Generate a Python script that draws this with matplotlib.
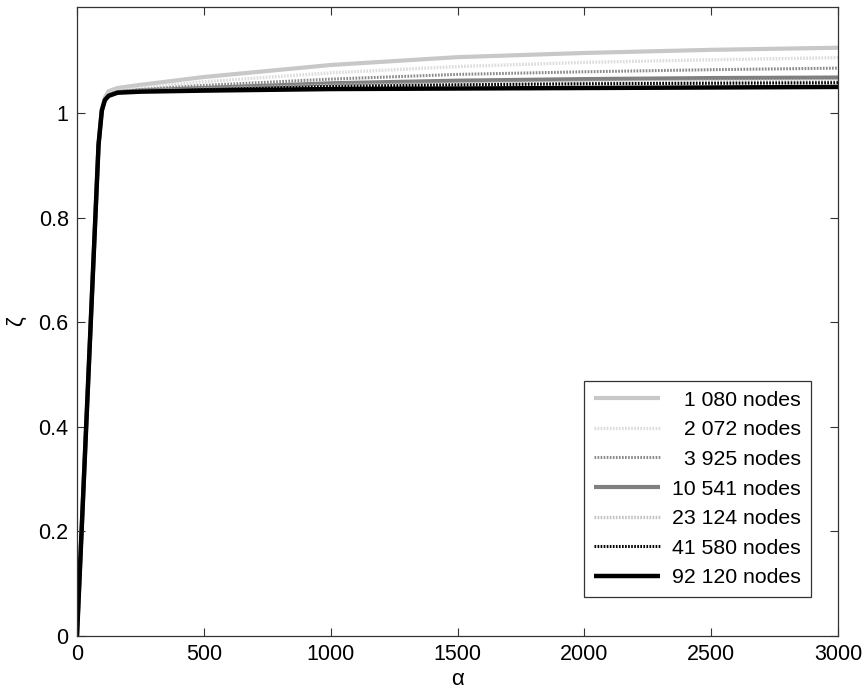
import matplotlib as mpl
mpl.use('Agg')
import matplotlib.pyplot as plt

mpl.rcParams['font.family'] = ['Liberation Sans', 'DejaVu Sans']
mpl.rcParams['lines.scale_dashes'] = False

# valores
alfa = [0, 85, 98, 110, 125, 160, 250, 500, 1000, 1500, 2000, 2500, 3000]

zeta_1080 = [0, 0.94, 1.008, 1.030, 1.042, 1.048, 1.054, 1.069, 1.092, 1.107, 1.115, 1.121, 1.125]
zeta_2072 = [0, 0.94, 1.007, 1.027, 1.037, 1.043, 1.048, 1.060, 1.077, 1.089, 1.097, 1.102, 1.106]
zeta_3925 = [0, 0.94, 1.006, 1.026, 1.035, 1.041, 1.045, 1.053, 1.065, 1.074, 1.079, 1.083, 1.086]
zeta_10541 = [0, 0.94, 1.006, 1.025, 1.034, 1.040, 1.043, 1.048, 1.057, 1.062, 1.065, 1.067, 1.068]
zeta_23124 = [0, 0.94, 1.005, 1.025, 1.033, 1.039, 1.042, 1.046, 1.053, 1.056, 1.059, 1.061, 1.062]
zeta_41580 = [0, 0.94, 1.005, 1.025, 1.033, 1.039, 1.041, 1.045, 1.051, 1.054, 1.056, 1.057, 1.058]
zeta_92120 = [0, 0.94, 1.005, 1.025, 1.033, 1.039, 1.041, 1.043, 1.046, 1.047, 1.048, 1.049, 1.050]

etiquetas = ['\u20071 080 nodes', '\u20072 072 nodes', '\u20073 925 nodes',
             '10 541 nodes', '23 124 nodes', '41 580 nodes', '92 120 nodes']
series = [zeta_1080, zeta_2072, zeta_3925, zeta_10541, zeta_23124, zeta_41580, zeta_92120]

punteado = (0, (1.2, 1.0))
estilos = [
    dict(color='#c8c8c8', lw=3.0, ls='-'),
    dict(color='#dcdcdc', lw=2.4, ls=punteado),
    dict(color='#8a8a8a', lw=2.2, ls=punteado),
    dict(color='#808080', lw=3.0, ls='-'),
    dict(color='#c4c4c4', lw=2.4, ls=punteado),
    dict(color='#000000', lw=2.2, ls=punteado),
    dict(color='#000000', lw=3.2, ls='-'),
]

fig = plt.figure(figsize=(8.67, 6.95), dpi=100)
ax = fig.add_axes([0.0888, 0.0849, 0.8778, 0.9051])

for y, lab, st in zip(series, etiquetas, estilos):
    ax.plot(alfa, y, label=lab, solid_capstyle='butt', solid_joinstyle='round', **st)

ax.set_xlim(0, 3000)
ax.set_ylim(0, 1.203)
ax.set_xticks(range(0, 3001, 500))
ax.set_yticks([0, 0.2, 0.4, 0.6, 0.8, 1])
ax.set_yticklabels(['0', '0.2', '0.4', '0.6', '0.8', '1'])
ax.tick_params(direction='in', length=6, width=0.8, top=True, right=True,
               labelsize=15.5, colors='#333333', labelcolor='black', pad=6)
for s in ax.spines.values():
    s.set_color('#333333')
    s.set_linewidth(0.9)

ax.set_xlabel('α', fontsize=16, labelpad=3)
ax.set_ylabel('ζ', fontsize=16, labelpad=8)

leg = ax.legend(loc='lower right', bbox_to_anchor=(0.9645, 0.062), fontsize=15.3,
                handlelength=3.1, handletextpad=0.6, labelspacing=0.5,
                borderpad=0.45, borderaxespad=0, fancybox=False, framealpha=1,
                edgecolor='#333333')
leg.get_frame().set_linewidth(0.9)

plt.savefig('out.png', dpi=100)
